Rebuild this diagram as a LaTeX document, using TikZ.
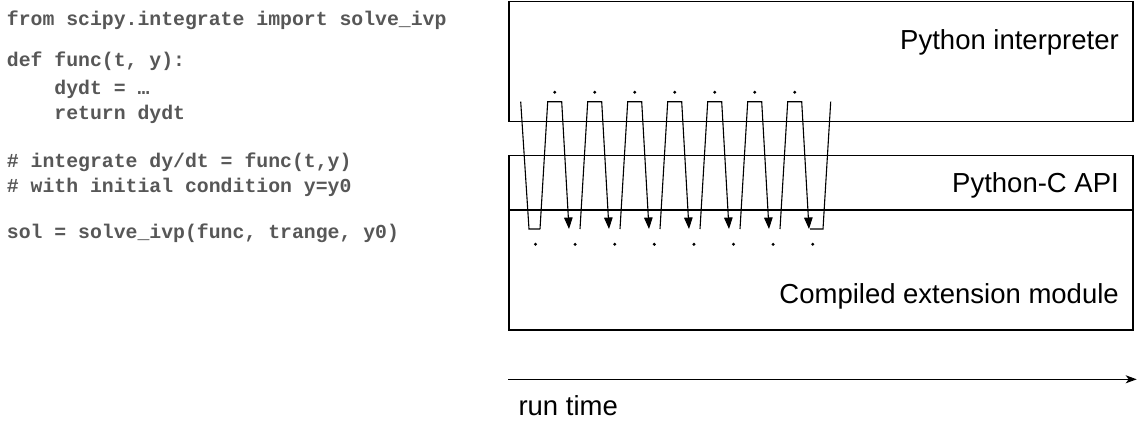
\documentclass[tikz,border=0pt]{standalone}
\usepackage{fontspec}
\setmainfont{Liberation Sans}
\newfontfamily\codefont{Liberation Mono}
\usetikzlibrary{arrows.meta}
\definecolor{codegray}{HTML}{575757}
\tikzset{
  layerbox/.style={draw=black, line width=1.4pt},
  layerlabel/.style={anchor=base east, inner sep=0pt, font=\fontsize{27.5}{30}\selectfont},
  codeline/.style={anchor=base west, inner sep=0pt, text=codegray, font=\codefont\bfseries\fontsize{19.8}{22}\selectfont},
  zig/.style={line width=1.1pt, line join=miter},
  zigarrow/.style={zig, -{Triangle[length=11.5pt,width=8.5pt]}},
  calldot/.style={fill=black, circle, inner sep=0pt, minimum size=3.3pt},
}
\begin{document}
\begin{tikzpicture}[x=1pt,y=-1pt]
\useasboundingbox (0,0) rectangle (1139,432);
% code
\node[codeline] (c1) at (6.7,25) {from scipy.integrate import solve\_ivp};
\node[codeline] (c2) at (6.7,66) {def func(t, y):};
\node[codeline] (c3) at (6.7,94) {\ \ \ \ dydt = …};
\node[codeline] (c4) at (6.7,119) {\ \ \ \ return dydt};
\node[codeline] (c5) at (6.7,167) {\# integrate dy/dt = func(t,y)};
\node[codeline] (c6) at (6.7,192) {\# with initial condition y=y0};
\node[codeline] (c7) at (6.7,238) {sol = solve\_ivp(func, trange, y0)};
% boxes
\draw[layerbox] (509,1.7) rectangle (1133,121.7);
\draw[layerbox] (509,155.7) rectangle (1133,210);
\draw[layerbox] (509,210) rectangle (1133,330);
\node[layerlabel] (interp) at (1119,49.3) {Python interpreter};
\node[layerlabel] (capi) at (1119,192.3) {Python-C API};
\node[layerlabel] (ext) at (1119,303.3) {Compiled extension module};
% zigzag
\draw[zig] (520.7,101.7) -- (529,229) -- (540,229);
\foreach \k in {0,...,6}{
  \draw[zigarrow] ({540+40*\k},229) -- ({547.7+40*\k},101.7) -- ({561.7+40*\k},101.7) -- ({569+40*\k},229);
  \node[calldot] (td\k) at ({554.7+40*\k},92.3) {};
}
\draw[zig] (810,229) -- (823,229) -- (830.7,101.7);
\foreach \k in {0,...,7}{
  \node[calldot] (bd\k) at ({535.5+39.6*\k},244.3) {};
}
% time axis
\coordinate (t0) at (508.3,379.3);
\coordinate (t1) at (1136.7,379.3);
\draw[line width=1.4pt, -{Stealth[length=11pt,width=8pt,inset=3pt]}] (t0) -- (t1);
\node[anchor=base west, inner sep=0pt, font=\fontsize{27.5}{30}\selectfont] (rt) at (518.3,415.5) {run time};
\end{tikzpicture}
\end{document}
